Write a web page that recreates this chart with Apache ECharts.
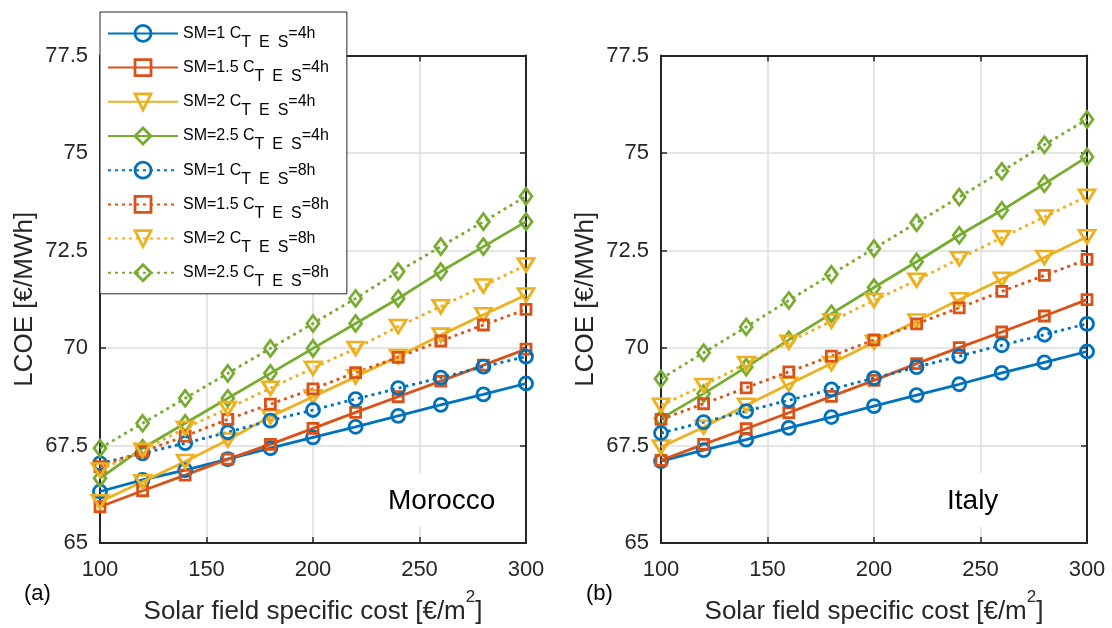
<!DOCTYPE html>
<html>
<head>
<meta charset="utf-8">
<script src="https://cdn.jsdelivr.net/npm/echarts@6/dist/echarts.min.js"></script>
<style>
  html, body { margin: 0; padding: 0; background: #fff; }
  #chart { width: 1112px; height: 628px; }
</style>
</head>
<body>
<div id="chart"></div>
<script>
// Solar field specific cost [€/m²]
const costs = [100, 120, 140, 160, 180, 200, 220, 240, 260, 280, 300];

// Axis ticks
const xTicks = { min: 100, max: 300, step: 50 };
const yTicks = { min: 65, max: 77.5, step: 2.5 };

// Solar multiples and storage hours
const solarMultiples = ['1', '1.5', '2', '2.5'];
const storageHours = ['4h', '8h'];

// LCOE [€/MWh] — Morocco
const morocco_sm1_4h   = [66.32, 66.62, 66.87, 67.15, 67.43, 67.71, 67.98, 68.26, 68.54, 68.81, 69.09];
const morocco_sm15_4h  = [65.93, 66.34, 66.74, 67.15, 67.53, 67.94, 68.35, 68.75, 69.15, 69.56, 69.97];
const morocco_sm2_4h   = [66.06, 66.57, 67.09, 67.64, 68.24, 68.75, 69.26, 69.78, 70.33, 70.85, 71.36];
const morocco_sm25_4h  = [66.66, 67.43, 68.07, 68.71, 69.35, 69.99, 70.63, 71.27, 71.96, 72.60, 73.24];
const morocco_sm1_8h   = [67.04, 67.30, 67.56, 67.84, 68.14, 68.41, 68.69, 68.97, 69.24, 69.52, 69.78];
const morocco_sm15_8h  = [66.96, 67.34, 67.74, 68.17, 68.56, 68.95, 69.37, 69.76, 70.18, 70.59, 70.99];
const morocco_sm2_8h   = [66.87, 67.38, 67.94, 68.45, 68.97, 69.48, 69.99, 70.55, 71.06, 71.59, 72.13];
const morocco_sm25_8h  = [67.43, 68.07, 68.71, 69.35, 69.99, 70.63, 71.27, 71.96, 72.60, 73.24, 73.89];

// LCOE [€/MWh] — Italy
const italy_sm1_4h   = [67.10, 67.38, 67.65, 67.95, 68.23, 68.51, 68.79, 69.07, 69.36, 69.63, 69.91];
const italy_sm15_4h  = [67.12, 67.53, 67.93, 68.34, 68.76, 69.17, 69.60, 70.01, 70.41, 70.82, 71.24];
const italy_sm2_4h   = [67.46, 67.97, 68.53, 69.07, 69.60, 70.15, 70.69, 71.24, 71.76, 72.32, 72.85];
const italy_sm25_4h  = [68.19, 68.83, 69.51, 70.21, 70.88, 71.55, 72.21, 72.89, 73.53, 74.21, 74.90];
const italy_sm1_8h   = [67.82, 68.10, 68.38, 68.66, 68.94, 69.23, 69.51, 69.79, 70.07, 70.34, 70.62];
const italy_sm15_8h  = [68.17, 68.57, 68.98, 69.39, 69.79, 70.21, 70.62, 71.03, 71.45, 71.86, 72.27];
const italy_sm2_8h   = [68.53, 69.04, 69.60, 70.15, 70.69, 71.22, 71.74, 72.29, 72.83, 73.36, 73.89];
const italy_sm25_8h  = [69.21, 69.88, 70.54, 71.22, 71.89, 72.55, 73.21, 73.87, 74.53, 75.21, 75.86];

const panels = [
  { label: 'Morocco', series: [
    [morocco_sm1_4h, morocco_sm15_4h, morocco_sm2_4h, morocco_sm25_4h],
    [morocco_sm1_8h, morocco_sm15_8h, morocco_sm2_8h, morocco_sm25_8h] ] },
  { label: 'Italy', series: [
    [italy_sm1_4h, italy_sm15_4h, italy_sm2_4h, italy_sm25_4h],
    [italy_sm1_8h, italy_sm15_8h, italy_sm2_8h, italy_sm25_8h] ] }
];

const FONT = "'Liberation Sans', Arial, Helvetica, sans-serif";
const AXIS_COLOR = '#262626';
const colors = ['#0072BD', '#D95319', '#EDB120', '#77AC30'];
const symbols = ['circle', 'rect', 'path://M0,0L20,0L10,17Z', 'diamond'];
const symbolSizes = [13, 10, [16, 13], [12, 16]];
const LINE_W = 2.8;

const seriesName = (sm, h) => 'SM=' + sm + ' CTES=' + h;

const grids = [
  { left: 100, right: 586, top: 55.5, bottom: 85, outerBoundsMode: 'none' },
  { left: 661, right: 25, top: 55.5, bottom: 85, outerBoundsMode: 'none' }
];

const xAxes = [], yAxes = [], series = [];

grids.forEach((g, gi) => {
  const common = {
    gridIndex: gi,
    type: 'value',
    axisLine: { show: true, onZero: false, lineStyle: { color: AXIS_COLOR, width: 2 } },
    axisTick: { show: true, inside: true, length: 6, lineStyle: { color: AXIS_COLOR, width: 1.5 } }
  };
  const xRange = { min: xTicks.min, max: xTicks.max, interval: xTicks.step };
  const yRange = { min: yTicks.min, max: yTicks.max, interval: yTicks.step };

  xAxes.push(Object.assign({}, common, xRange, {
    position: 'bottom',
    name: '{t|Solar field specific cost [€/m}{sup|2}{t|]}',
    nameLocation: 'middle',
    nameGap: 46,
    nameTextStyle: {
      rich: {
        t: { fontFamily: FONT, fontSize: 26, color: AXIS_COLOR, lineHeight: 46, verticalAlign: 'middle' },
        sup: { fontFamily: FONT, fontSize: 17, color: AXIS_COLOR, lineHeight: 17, verticalAlign: 'top' }
      }
    },
    axisLabel: { fontFamily: FONT, fontSize: 22, color: AXIS_COLOR, margin: 16 },
    splitLine: { show: true, lineStyle: { color: '#dcdcdc', width: 1.5 } }
  }));
  xAxes.push(Object.assign({}, common, xRange, {
    position: 'top',
    axisLabel: { show: false },
    splitLine: { show: false }
  }));
  yAxes.push(Object.assign({}, common, yRange, {
    position: 'left',
    name: 'LCOE [€/MWh]',
    nameLocation: 'middle',
    nameGap: 62,
    nameTextStyle: { fontFamily: FONT, fontSize: 26, color: AXIS_COLOR },
    axisLabel: { fontFamily: FONT, fontSize: 22, color: AXIS_COLOR, margin: 12 },
    splitLine: { show: true, lineStyle: { color: '#dcdcdc', width: 1.5 } }
  }));
  yAxes.push(Object.assign({}, common, yRange, {
    position: 'right',
    axisLabel: { show: false },
    splitLine: { show: false }
  }));

  storageHours.forEach((h, hi) => {
    solarMultiples.forEach((sm, k) => {
      const values = panels[gi].series[hi][k];
      series.push({
        type: 'line',
        name: seriesName(sm, h),
        xAxisIndex: gi * 2,
        yAxisIndex: gi * 2,
        data: costs.map((c, i) => [c, values[i]]),
        symbol: symbols[k],
        symbolSize: symbolSizes[k],
        showAllSymbol: true,
        clip: false,
        lineStyle: { color: colors[k], width: LINE_W, type: hi === 0 ? 'solid' : [3, 4], cap: 'butt' },
        itemStyle: { color: 'rgba(255,255,255,0)', borderColor: colors[k], borderWidth: LINE_W },
        emphasis: { disabled: true }
      });
    });
  });
});

const legendNames = [];
storageHours.forEach(h => solarMultiples.forEach(sm => legendNames.push(seriesName(sm, h))));

const option = {
  backgroundColor: '#fff',
  animation: false,
  textStyle: { fontFamily: FONT },
  grid: grids,
  xAxis: xAxes,
  yAxis: yAxes,
  series: series,
  legend: {
    data: legendNames,
    orient: 'vertical',
    left: 100,
    top: 12,
    padding: [12, 18, 4, 7],
    itemWidth: 70,
    itemHeight: 20,
    itemGap: 7.8,
    backgroundColor: '#fff',
    borderColor: AXIS_COLOR,
    borderWidth: 1,
    selectedMode: false,
    itemStyle: { borderWidth: LINE_W },
    formatter: name => {
      const m = name.match(/^(SM=\S+ C)TES(=\S+)$/);
      return '{m|' + m[1] + '}{s|T\u2002E\u2002S}{m|' + m[2] + '}';
    },
    textStyle: {
      rich: {
        m: { fontFamily: FONT, fontSize: 16, color: '#000', lineHeight: 34, verticalAlign: 'middle' },
        s: { fontFamily: FONT, fontSize: 16, color: '#000', lineHeight: 15, verticalAlign: 'bottom' }
      }
    }
  },
  graphic: [
    { type: 'rect', z: 3, shape: { x: 382, y: 473, width: 124, height: 54 }, style: { fill: '#fff' } },
    { type: 'text', z: 4, x: 388, y: 501, style: { text: panels[0].label, font: '28px ' + FONT, fill: '#000', verticalAlign: 'middle' } },
    { type: 'rect', z: 3, shape: { x: 940, y: 473, width: 68, height: 54 }, style: { fill: '#fff' } },
    { type: 'text', z: 4, x: 947, y: 501, style: { text: panels[1].label, font: '28px ' + FONT, fill: '#000', verticalAlign: 'middle' } },
    { type: 'text', z: 4, x: 24, y: 594, style: { text: '(a)', font: '22px ' + FONT, fill: '#000', verticalAlign: 'middle' } },
    { type: 'text', z: 4, x: 586, y: 594, style: { text: '(b)', font: '22px ' + FONT, fill: '#000', verticalAlign: 'middle' } }
  ]
};

const chart = echarts.init(document.getElementById('chart'), null, { renderer: 'canvas' });
chart.setOption(option);
</script>
</body>
</html>
